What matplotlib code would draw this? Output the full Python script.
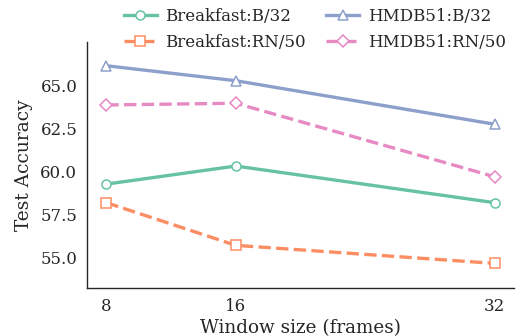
import matplotlib
matplotlib.use("Agg")
import matplotlib.pyplot as plt

window = [8, 16, 32]
breakfast_b32 = [59.24, 60.29, 58.16]
breakfast_rn50 = [58.16, 55.68, 54.63]
hmdb_b32 = [66.12, 65.25, 62.72]
hmdb_rn50 = [63.84, 63.94, 59.67]
yticks = [55.0, 57.5, 60.0, 62.5, 65.0]

plt.rcParams['font.family'] = ['DejaVu Serif']
plt.rcParams['text.color'] = '.15'
plt.rcParams['axes.labelcolor'] = '.15'
plt.rcParams['xtick.color'] = '.15'
plt.rcParams['ytick.color'] = '.15'

fig = plt.figure(figsize=(5.16, 3.36), dpi=100)
ax = fig.add_axes([87/516, 48/336, 427/516, 246/336])

series = [
    ("Breakfast:B/32", breakfast_b32, '#66c2a5', 'o', '-'),
    ("Breakfast:RN/50", breakfast_rn50, '#fc8d62', 's', '--'),
    ("HMDB51:B/32", hmdb_b32, '#8da0cb', '^', '-'),
    ("HMDB51:RN/50", hmdb_rn50, '#e78ac3', 'D', '--'),
]
for label, vals, c, m, ls in series:
    ax.plot(window, vals, color=c, marker=m, linestyle=ls, linewidth=2.4,
            markersize=6.5 if m != 'D' else 6, markerfacecolor='white',
            markeredgecolor=c, markeredgewidth=1.1, label=label)

ax.set_xticks(window)
ax.set_xticklabels([str(w) for w in window])
ax.set_yticks(yticks)
ax.set_yticklabels([f"{t:.1f}" for t in yticks])
ax.set_xlim(6.8, 33.2)
ax.set_ylim(53.2, 67.5)
ax.tick_params(length=0, labelsize=12, pad=7)
ax.set_xlabel("Window size (frames)", fontsize=13.2, labelpad=3)
ax.set_ylabel("Test Accuracy", fontsize=13.4, labelpad=5)
for s in ['top', 'right']:
    ax.spines[s].set_visible(False)
for s in ['left', 'bottom']:
    ax.spines[s].set_color('.15')
    ax.spines[s].set_linewidth(1.0)

fig.legend(loc='upper right', bbox_to_anchor=(1.009, 1.02), ncol=2,
           frameon=False, fontsize=12, handletextpad=0.5, columnspacing=1.2,
           labelspacing=0.5, handlelength=2.0)

fig.savefig("out.png", dpi=100)
